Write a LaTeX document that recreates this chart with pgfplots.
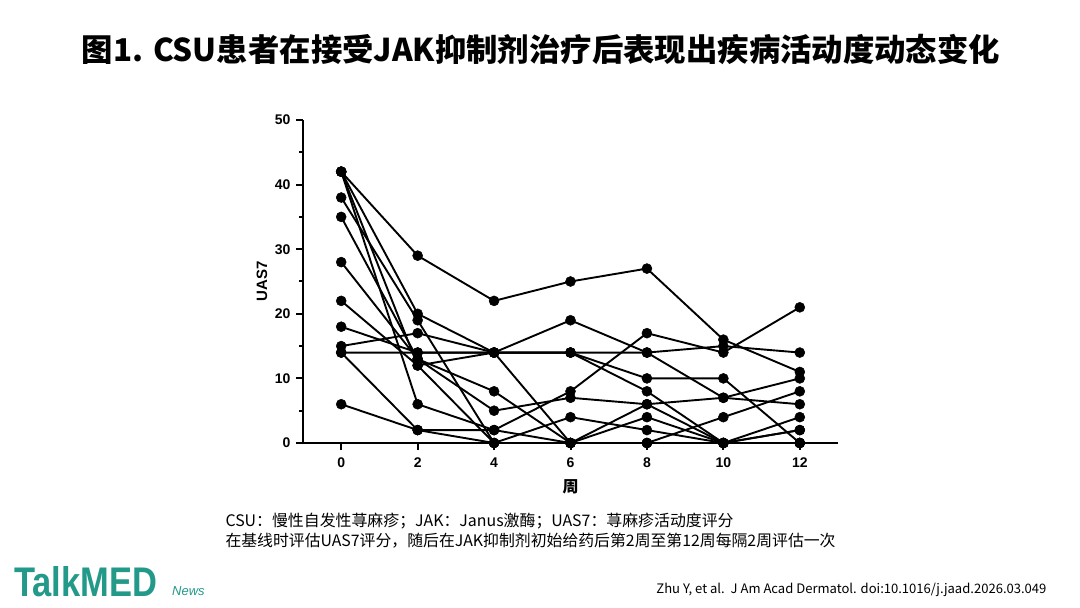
\documentclass[border=0pt]{standalone}
\usepackage{pgfplots}
\pgfplotsset{compat=1.18}
\usepackage{fontspec}
\setmainfont{Liberation Sans}
\newfontfamily\cjk{Noto Sans CJK SC}
\definecolor{teal1}{HTML}{23998A}
\begin{document}
\begin{tikzpicture}[x=1pt,y=1pt]
\path[use as bounding box,fill=white] (0,0) rectangle (1080,608);
% title
\node[anchor=center] at (541,558) {\resizebox{918pt}{!}{\cjk\bfseries 图1. CSU患者在接受JAK抑制剂治疗后表现出疾病活动度动态变化}};
\begin{axis}[
  at={(303pt,165pt)}, anchor=south west,
  scale only axis, width=535pt, height=323pt,
  xmin=-1, xmax=13, ymin=0, ymax=50,
  axis x line=bottom, axis y line=left,
  axis line style={line width=2.2pt,-},
  xtick={0,2,4,6,8,10,12},
  ytick={0,10,20,30,40,50},
  minor ytick={5,15,25,35,45},
  tick align=outside,
  major tick length=7pt, minor tick length=4pt,
  tick style={line width=2pt,black},
  /pgf/number format/assume math mode=true,
  ticklabel style={font=\fontsize{14}{16}\selectfont\bfseries},
  xticklabel style={yshift=-4pt},
  yticklabel style={xshift=-2pt},
  xlabel={\fontsize{16}{18}\selectfont\cjk\bfseries 周},
  ylabel={\fontsize{15}{17}\selectfont\bfseries UAS7},
  xlabel style={at={(axis description cs:0.5,0)},anchor=center,yshift=-44pt},
  ylabel style={at={(axis description cs:0,0.5)},anchor=center,yshift=41pt},
  clip=false,
  every axis plot post/.append style={black,solid,line width=1.9pt,mark=*,mark size=5pt,mark options={solid,fill=black,draw=black,line width=0.5pt}},
]
\addplot coordinates {(0,42)(2,29)(4,22)(6,25)(8,27)(10,16)(12,11)};
\addplot coordinates {(0,42)(2,20)(4,14)(6,19)(8,14)(10,7)(12,6)};
\addplot coordinates {(0,42)(2,6)(4,2)(6,8)(8,17)(10,14)(12,21)};
\addplot coordinates {(0,42)(2,12)(4,0)(6,4)(8,2)(10,0)(12,2)};
\addplot coordinates {(0,38)(2,19)(4,0)(6,0)(8,0)(10,0)(12,0)};
\addplot coordinates {(0,35)(2,13)(4,8)(6,0)(8,4)(10,0)(12,4)};
\addplot coordinates {(0,28)(2,13)(4,5)(6,7)(8,6)(10,7)(12,10)};
\addplot coordinates {(0,22)(2,12)(4,14)(6,14)(8,10)(10,10)(12,0)};
\addplot coordinates {(0,18)(2,14)(4,14)(6,14)(8,14)(10,15)(12,14)};
\addplot coordinates {(0,15)(2,17)(4,14)(6,14)(8,8)(10,0)(12,0)};
\addplot coordinates {(0,14)(2,14)(4,14)(6,0)(8,6)(10,0)(12,2)};
\addplot coordinates {(0,6)(2,2)(4,2)(6,0)(8,0)(10,4)(12,8)};
\addplot coordinates {(0,14)(2,2)(4,0)(6,0)(8,0)(10,0)(12,0)};
\end{axis}
% footnotes
\node[anchor=west] at (222,87) {\resizebox{508pt}{!}{\cjk CSU：慢性自发性荨麻疹；JAK：Janus激酶；UAS7：荨麻疹活动度评分}};
\node[anchor=west] at (222,67) {\resizebox{610pt}{!}{\cjk 在基线时评估UAS7评分，随后在JAK抑制剂初始给药后第2周至第12周每隔2周评估一次}};
\node[anchor=east] at (1050,18) {\resizebox{390pt}{!}{\cjk Zhu Y, et al.\ \ J Am Acad Dermatol. doi:10.1016/j.jaad.2026.03.049}};
% logo
\node[anchor=south west,inner sep=0pt,text=teal1] at (14,11) {\resizebox{143pt}{30pt}{\bfseries TalkMED}};
\node[anchor=south west,inner sep=0pt,text=teal1] at (172,12) {\fontsize{13}{14}\selectfont\itshape News};
\end{tikzpicture}
\end{document}
